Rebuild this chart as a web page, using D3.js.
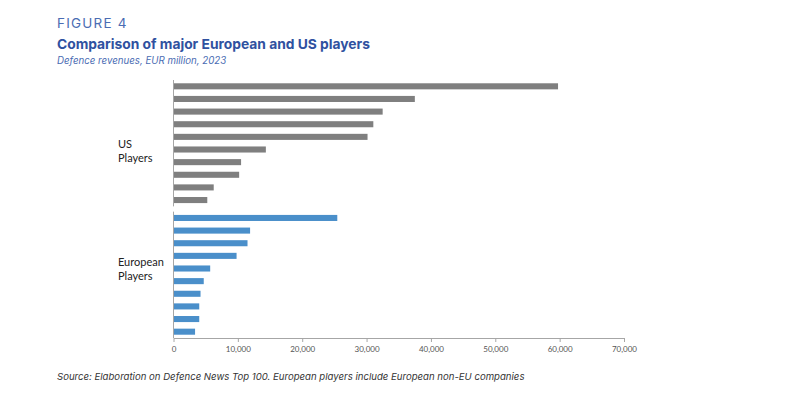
<!DOCTYPE html>
<html><head><meta charset="utf-8">
<script src="https://cdn.jsdelivr.net/npm/d3@7"></script>
<style>
body{margin:0;background:#fff;}
svg{display:block;}
</style></head>
<body>
<svg id="chart" width="800" height="398"></svg>
<script>
const groups = ["US Players", "European Players"];
const groupLines = [["US", "Players"], ["European", "Players"]];
const usValues = [59750, 37500, 32500, 31050, 30150, 14350, 10500, 10200, 6250, 5250];
const euValues = [25450, 11900, 11500, 9800, 5700, 4700, 4200, 4000, 4000, 3350];
const xTicks = [0, 10000, 20000, 30000, 40000, 50000, 60000, 70000];
const groupColors = ["#7f7f7f", "#4a8fca"];

const svg = d3.select("#chart");

// Titles
svg.append("text").attr("x", 57).attr("y", 28)
  .attr("font-family", "Inter, 'Open Sans', sans-serif").attr("font-size", 13.5)
  .attr("letter-spacing", 1.2).attr("fill", "#4a6cb3").text("FIGURE 4");
svg.append("text").attr("x", 57).attr("y", 49)
  .attr("font-family", "Inter, 'Open Sans', sans-serif").attr("font-weight", 700)
  .attr("font-size", 13.8).attr("fill", "#2f51a0").text("Comparison of major European and US players");
svg.append("text").attr("x", 57).attr("y", 64)
  .attr("font-family", "Inter, 'Open Sans', sans-serif").attr("font-style", "italic")
  .attr("font-size", 9.7).attr("fill", "#4a6cb3").text("Defence revenues, EUR million, 2023");

const x = d3.scaleLinear().domain([0, 70000]).range([173.5, 624]);
const outer = d3.scaleBand().domain(groups).range([80, 338]).paddingInner(0.04);

const data = [usValues, euValues];
const labelShift = [5, -8.5];

groups.forEach((g, gi) => {
  const vals = data[gi];
  const inner = d3.scaleBand().domain(d3.range(vals.length))
    .range([outer(g), outer(g) + outer.bandwidth()]).paddingInner(0.52).paddingOuter(0.26);
  const gg = svg.append("g");
  gg.selectAll("rect").data(vals).join("rect")
    .attr("x", x(0)).attr("y", (d, i) => inner(i))
    .attr("width", d => x(d) - x(0)).attr("height", inner.bandwidth())
    .attr("fill", groupColors[gi]);
  gg.append("line").attr("x1", x(0)).attr("x2", x(0))
    .attr("y1", outer(g)).attr("y2", outer(g) + outer.bandwidth())
    .attr("stroke", "#a6a6a6").attr("stroke-width", 1);
  const cy = outer(g) + outer.bandwidth() / 2 + labelShift[gi];
  const t = svg.append("text").attr("font-family", "Lato, 'Liberation Sans', sans-serif")
    .attr("font-size", 11).attr("fill", "#222");
  groupLines[gi].forEach((ln, li) => {
    t.append("tspan").attr("x", 118).attr("y", cy + li * 14).text(ln);
  });
});

// x axis
const xAxis = d3.axisBottom(x).tickValues(xTicks).tickSize(4).tickSizeOuter(0)
  .tickFormat(d3.format(","));
const ax = svg.append("g").attr("transform", "translate(0,338)").call(xAxis);
ax.select(".domain").attr("stroke", "#a6a6a6");
ax.selectAll(".tick line").attr("stroke", "#a6a6a6");
ax.selectAll(".tick text").attr("font-family", "Lato, 'Liberation Sans', sans-serif")
  .attr("font-size", 8).attr("fill", "#555").attr("dy", "0.9em");

// source
svg.append("text").attr("x", 57).attr("y", 380)
  .attr("font-family", "Inter, 'Open Sans', sans-serif").attr("font-style", "italic")
  .attr("font-size", 9.6).attr("fill", "#333")
  .text("Source: Elaboration on Defence News Top 100. European players include European non-EU companies");
</script>
</body></html>
